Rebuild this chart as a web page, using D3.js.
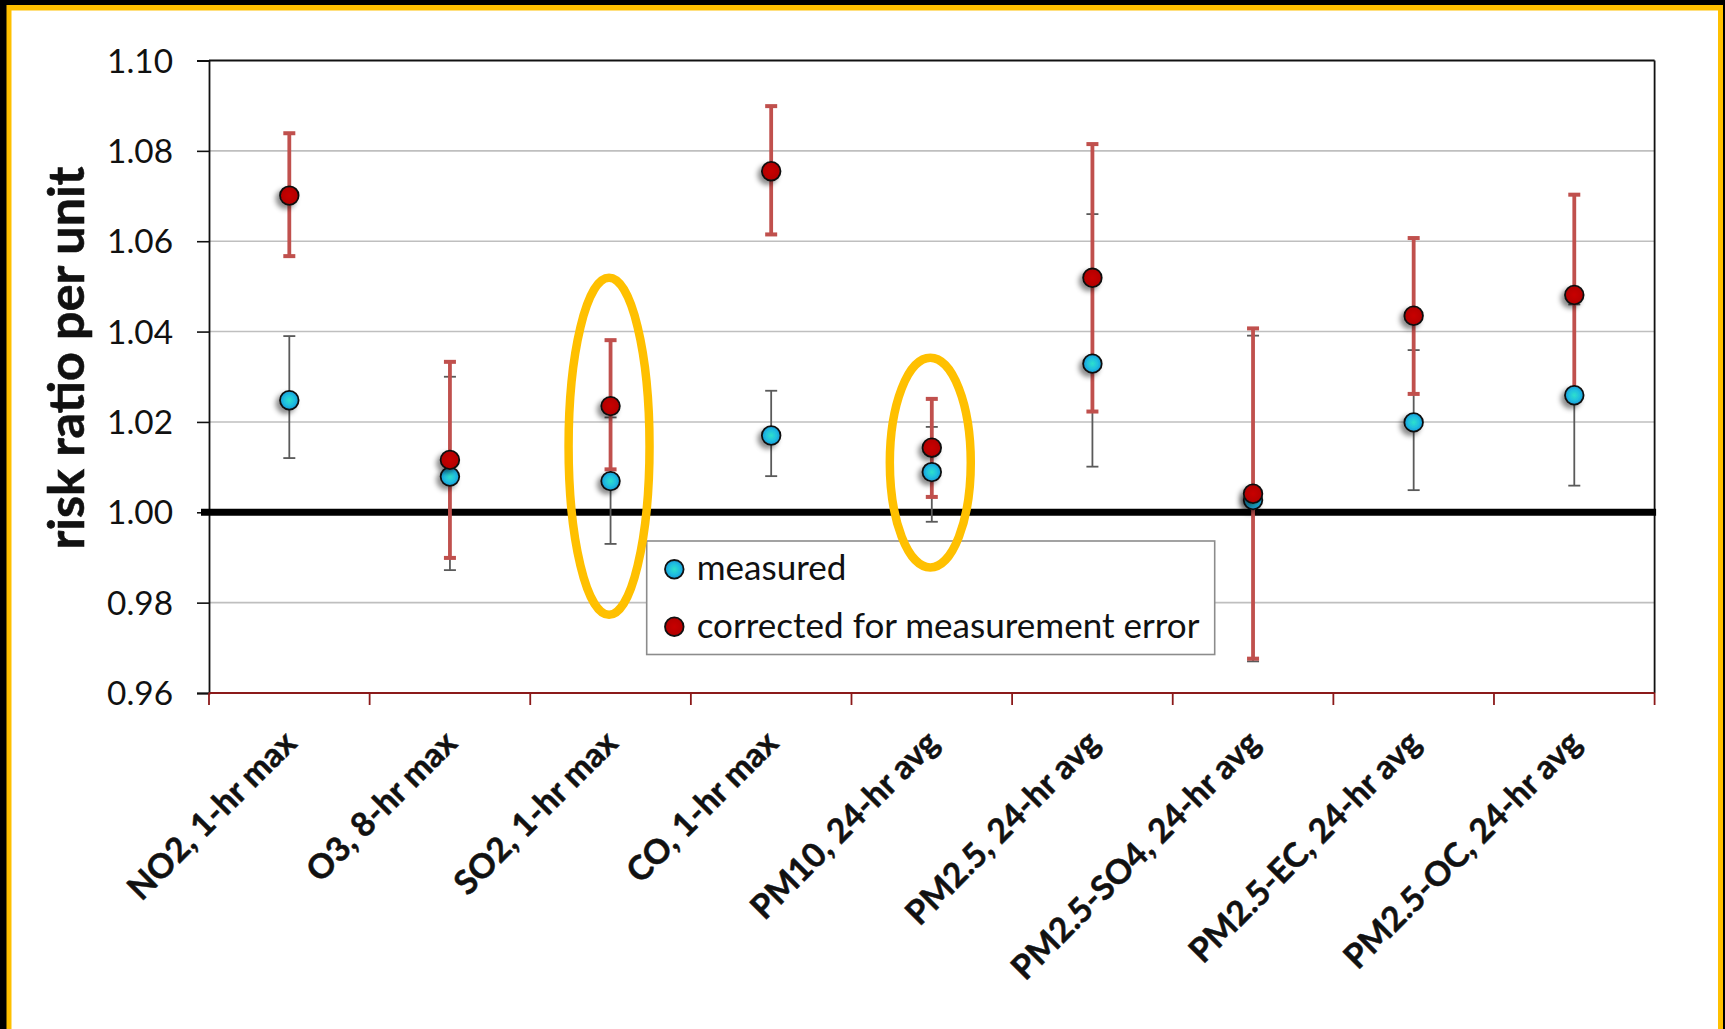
<!DOCTYPE html>
<html>
<head>
<meta charset="utf-8">
<script src="https://cdn.jsdelivr.net/npm/d3@7"></script>
<style>
html,body{margin:0;padding:0;background:#fff;}
svg{display:block;}
text{font-family:Lato,"Open Sans",sans-serif;}
</style>
</head>
<body>
<svg id="chart" width="1725" height="1029"></svg>
<script>
const categories = ["NO2, 1-hr max","O3, 8-hr max","SO2, 1-hr max","CO, 1-hr max","PM10, 24-hr avg","PM2.5, 24-hr avg","PM2.5-SO4, 24-hr avg","PM2.5-EC, 24-hr avg","PM2.5-OC, 24-hr avg"];
const measured      = [1.0248, 1.0079, 1.0069, 1.0170, 1.0089, 1.0329, 1.0027, 1.0199, 1.0259];
const measuredLow   = [1.0120, 0.9872, 0.9930, 1.0080, 0.9979, 1.0101, 0.9670, 1.0049, 1.0059];
const measuredHigh  = [1.0390, 1.0300, 1.0210, 1.0269, 1.0189, 1.0660, 1.0391, 1.0359, 1.0460];
const corrected     = [1.0701, 1.0116, 1.0235, 1.0755, 1.0143, 1.0519, 1.0041, 1.0435, 1.0481];
const correctedLow  = [1.0567, 0.9899, 1.0095, 1.0615, 1.0034, 1.0223, 0.9676, 1.0262, 1.0259];
const correctedHigh = [1.0839, 1.0333, 1.0381, 1.0899, 1.0251, 1.0815, 1.0407, 1.0607, 1.0703];
const yTicks = [0.96, 0.98, 1.00, 1.02, 1.04, 1.06, 1.08, 1.10];
const seriesNames = ["measured", "corrected for measurement error"];
const highlightCats = ["SO2, 1-hr max", "PM10, 24-hr avg"];
const highlightLow  = [0.9773, 0.9878];
const highlightHigh = [1.0519, 1.0342];
const yTitle = "risk ratio per unit";

(function(){
const W = 1725, H = 1029;
const svg = d3.select("#chart");
const defs = svg.append("defs");
const grad = defs.append("radialGradient").attr("id","blueGrad").attr("cx","50%").attr("cy","50%").attr("r","55%");
grad.append("stop").attr("offset","0%").attr("stop-color","#2fe0cc");
grad.append("stop").attr("offset","55%").attr("stop-color","#1fbde0");
grad.append("stop").attr("offset","100%").attr("stop-color","#178fd4");
const rgrad = defs.append("radialGradient").attr("id","redGrad").attr("cx","50%").attr("cy","50%").attr("r","55%");
rgrad.append("stop").attr("offset","0%").attr("stop-color","#c80000");
rgrad.append("stop").attr("offset","100%").attr("stop-color","#b00000");
const sh = defs.append("filter").attr("id","shadow").attr("x","-80%").attr("y","-80%").attr("width","260%").attr("height","260%");
sh.append("feDropShadow").attr("dx",-3.5).attr("dy",3.5).attr("stdDeviation",2.5).attr("flood-color","#000").attr("flood-opacity",0.45);

// frame
svg.append("rect").attr("x",0).attr("y",0).attr("width",W).attr("height",H).attr("fill","#000");
svg.append("rect").attr("x",6.5).attr("y",5).attr("width",1716.5).attr("height",H+20).attr("fill","#ffc000");
svg.append("rect").attr("x",11.5).attr("y",10.5).attr("width",1706.5).attr("height",H+20).attr("fill","#fff");

const pL = 209, pR = 1654.6, pT = 60.5, pB = 693;
const x = d3.scaleBand().domain(categories).range([pL, pR]).padding(0);
const y = d3.scaleLinear().domain([0.96, 1.10]).range([pB, pT]);
const cx = c => x(c) + x.bandwidth()/2;

function fit(sel, target){
  const n = sel.node(); const fs = parseFloat(sel.attr("font-size"));
  const w = n.getComputedTextLength();
  const nf = fs * target / w;
  sel.attr("font-size", nf);
  return nf;
}

// gridlines
svg.append("g").selectAll("line").data(yTicks.filter(t => t !== 0.96 && t !== 1.10 && t !== 1.00)).join("line")
  .attr("x1", pL).attr("x2", pR).attr("y1", d => y(d)).attr("y2", d => y(d))
  .attr("stroke","#bfbfbf").attr("stroke-width",1.6);

// plot border top/right
svg.append("line").attr("x1",pL).attr("x2",pR).attr("y1",pT).attr("y2",pT).attr("stroke","#111").attr("stroke-width",1.8);
svg.append("line").attr("x1",pR).attr("x2",pR).attr("y1",pT).attr("y2",pB).attr("stroke","#111").attr("stroke-width",1.8);

// y axis
const yAxis = svg.append("g").attr("transform",`translate(${pL},0)`)
  .call(d3.axisLeft(y).tickValues(yTicks).tickFormat(d3.format(".2f")).tickSize(12).tickPadding(24));
yAxis.select(".domain").attr("stroke","#111").attr("stroke-width",1.8);
yAxis.selectAll(".tick line").attr("stroke","#111").attr("stroke-width",1.6);
yAxis.selectAll(".tick text").attr("font-family","Lato").attr("font-size",31).attr("fill","#111").attr("dy","0.35em");
{
  const t = yAxis.selectAll(".tick text").filter(d => d === 1.10);
  const fs = fit(t, 66);
  yAxis.selectAll(".tick text").attr("font-size", fs);
}

// x axis
const xAxis = svg.append("g").attr("transform",`translate(0,${pB})`);
const bounds = d3.range(categories.length + 1).map(i => pL + i * x.bandwidth());
xAxis.append("line").attr("x1",pL).attr("x2",pR).attr("y1",0).attr("y2",0).attr("stroke","#8b1a1a").attr("stroke-width",2.2);
xAxis.selectAll("line.tk").data(bounds).join("line").attr("class","tk")
  .attr("x1",d=>d).attr("x2",d=>d).attr("y1",0).attr("y2",12).attr("stroke","#8b1a1a").attr("stroke-width",1.8);
const xl = xAxis.selectAll("g.lab").data(categories).join("g").attr("class","lab")
  .attr("transform", d => `translate(${cx(d)+9},52) rotate(-45)`);
xl.append("text").text(d => d).attr("text-anchor","end").attr("font-weight","bold").attr("font-size",33).attr("fill","#111")
  .attr("stroke","#111").attr("stroke-width",0.5);
{
  const t = xl.selectAll("text").filter(d => d === categories[0]);
  const fs = fit(t, 222);
  xl.selectAll("text").attr("font-size", fs);
}

// 1.00 reference line
svg.append("line").attr("x1",201).attr("x2",pR+1.5).attr("y1",y(1.00)).attr("y2",y(1.00)).attr("stroke","#000").attr("stroke-width",7);

// y title
const yt = svg.append("text").attr("transform",`translate(84,358) rotate(-90)`)
  .attr("text-anchor","middle").attr("font-weight","bold").attr("font-size",50).attr("fill","#111")
  .attr("stroke","#111").attr("stroke-width",0.6).text(yTitle);
fit(yt, 383);

// error bars
function errBars(low, high, color, sw, capH, capW){
  const g = svg.append("g");
  g.selectAll("line.v").data(categories).join("line").attr("class","v")
    .attr("x1",d=>cx(d)).attr("x2",d=>cx(d))
    .attr("y1",(d,i)=>y(high[i])).attr("y2",(d,i)=>y(low[i]))
    .attr("stroke",color).attr("stroke-width",sw);
  const caps = [];
  categories.forEach((c,i)=>{ caps.push({c, v: high[i]}); caps.push({c, v: low[i]}); });
  g.selectAll("rect.cap").data(caps).join("rect").attr("class","cap")
    .attr("x", d => cx(d.c) - capW/2).attr("y", d => y(d.v) - capH/2)
    .attr("width", capW).attr("height", capH).attr("fill", color);
}
errBars(measuredLow, measuredHigh, "#5a5a5a", 1.8, 1.8, 12);
errBars(correctedLow, correctedHigh, "#c0504d", 3.8, 4, 12);

// markers
function markers(vals, fill){
  svg.append("g").selectAll("circle").data(categories).join("circle")
    .attr("cx", d => cx(d)).attr("cy", (d,i) => y(vals[i])).attr("r", 9.3)
    .attr("fill", fill).attr("stroke","#111").attr("stroke-width",1.8).attr("filter","url(#shadow)");
}
markers(measured, "url(#blueGrad)");
markers(corrected, "url(#redGrad)");

// legend
const lg = svg.append("g");
lg.append("rect").attr("x",646.7).attr("y",541).attr("width",568).attr("height",113.5)
  .attr("fill","#fff").attr("stroke","#8c8c8c").attr("stroke-width",1.6);
const lfill = ["url(#blueGrad)","url(#redGrad)"];
const li = lg.selectAll("g.it").data(seriesNames).join("g").attr("class","it")
  .attr("transform",(d,i)=>`translate(674.3,${569.3 + i*57.4})`);
li.append("circle").attr("r",9.3).attr("fill",(d,i)=>lfill[i]).attr("stroke","#111").attr("stroke-width",1.8);
li.append("text").attr("x",22.4).attr("y",11).text(d=>d).attr("font-size",34).attr("fill","#111");
{
  const t = li.selectAll("text").filter(d => d === seriesNames[1]);
  const fs = fit(t, 503);
  li.selectAll("text").attr("font-size", fs);
}

// highlight ellipses
svg.append("g").selectAll("ellipse").data(highlightCats).join("ellipse")
  .attr("cx", d => cx(d) - 1.5)
  .attr("cy", (d,i) => (y(highlightLow[i]) + y(highlightHigh[i]))/2)
  .attr("rx", x.bandwidth()*0.252)
  .attr("ry", (d,i) => (y(highlightLow[i]) - y(highlightHigh[i]))/2)
  .attr("fill","none").attr("stroke","#ffc000").attr("stroke-width",8.5);
})();
</script>
</body>
</html>
